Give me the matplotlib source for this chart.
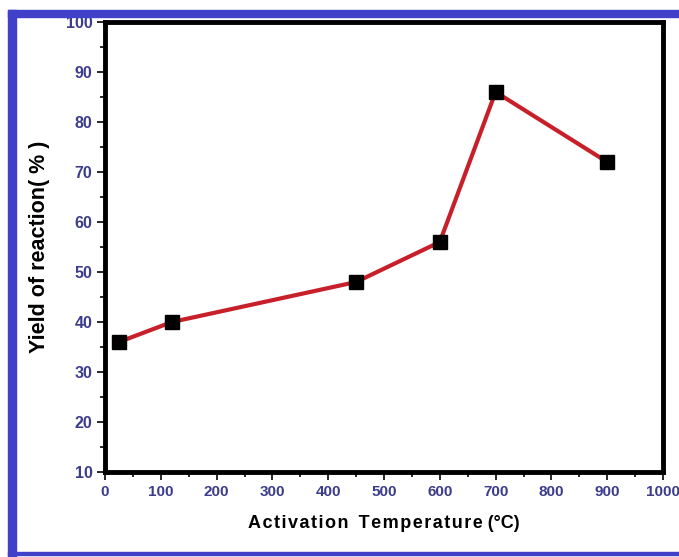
import matplotlib.pyplot as plt
from matplotlib.patches import Rectangle
from matplotlib.ticker import MultipleLocator

# Yield vs. activation temperature
temperature_c = [25, 120, 450, 600, 700, 900]
yield_pct = [36, 40, 48, 56, 86, 72]

W, H, DPI = 679, 557, 100
fig = plt.figure(figsize=(W / DPI, H / DPI), dpi=DPI)
fig.patch.set_facecolor("white")

# blue frame around the figure (top, left, bottom)
frame_blue = "#4040c8"
fig.patches.append(Rectangle((8 / W, 1 - 17 / H), 1 - 8 / W, 7 / H,
                             transform=fig.transFigure, color=frame_blue, zorder=0))
fig.patches.append(Rectangle((8 / W, 0), 8 / W, 1 - 10 / H,
                             transform=fig.transFigure, color=frame_blue, zorder=0))
fig.patches.append(Rectangle((8 / W, 2 / H), 1 - 8 / W, 3 / H,
                             transform=fig.transFigure, color=frame_blue, zorder=0))

ax = fig.add_axes([105 / W, 85 / H, 558 / W, 450 / H])
ax.plot(temperature_c, yield_pct, color="#c8202a", lw=3, zorder=2)
ax.plot(temperature_c, yield_pct, ls="none", marker="s", ms=10,
        color="black", zorder=3)

ax.set_xlim(0, 1000)
ax.set_ylim(10, 100)
ax.xaxis.set_major_locator(MultipleLocator(100))
ax.xaxis.set_minor_locator(MultipleLocator(50))
ax.yaxis.set_major_locator(MultipleLocator(10))
ax.yaxis.set_minor_locator(MultipleLocator(5))

for side in ["left", "right", "top", "bottom"]:
    ax.spines[side].set_linewidth(3.5)
ax.tick_params(which="major", direction="out", length=6, width=1.2,
               labelcolor="#3c3c8c", pad=3)
ax.tick_params(which="minor", direction="out", length=3.5, width=1.2)
ax.tick_params(axis="y", labelsize=11.5)
ax.tick_params(axis="x", labelsize=11)
for lbl in ax.get_xticklabels() + ax.get_yticklabels():
    lbl.set_fontweight("bold")
    lbl.set_family("Liberation Sans")

# letter-spaced x title
xtitle = "\u200a".join("Activation") + "  " + "\u200a".join("Temperature") + " (°C)"
ax.set_xlabel(xtitle, fontsize=13, fontweight="bold", family="Liberation Sans",
              labelpad=12)
ax.set_ylabel("Yield of reaction( % )", fontsize=15.5, fontweight="bold",
              family="Liberation Sans", labelpad=11)

fig.savefig("out.png", dpi=DPI)
